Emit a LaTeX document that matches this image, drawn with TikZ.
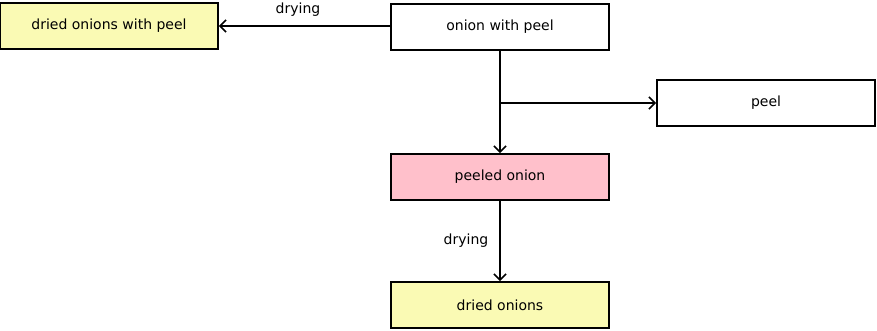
\documentclass[tikz,border=0pt]{standalone}
\usepackage{fontspec}
\setmainfont{DejaVu Sans}
\usetikzlibrary{arrows.meta}
\definecolor{boxyellow}{HTML}{FAFAB4}
\definecolor{boxpink}{HTML}{FFC0CB}
\begin{document}
\begin{tikzpicture}[x=1pt,y=-1pt,
  box/.style={draw=black,line width=1.8pt,minimum width=218pt,minimum height=46pt,inner sep=0pt,font=\fontsize{14}{16}\selectfont},
  conn/.style={line width=1.6pt,-{Straight Barb[length=6pt,width=12pt,line width=1.6pt]}},
  lbl/.style={font=\fontsize{14}{16}\selectfont}]
\useasboundingbox (0,0) rectangle (877,331);
\node[box,fill=boxyellow] (dop) at (109,26) {dried onions with peel};
\node[box,fill=white] (owp) at (500,27) {onion with peel};
\node[box,fill=white] (peel) at (766,103) {peel};
\node[box,fill=boxpink] (po) at (500,177) {peeled onion};
\node[box,fill=boxyellow] (do) at (500,305) {dried onions};
\coordinate (br) at (owp.south |- peel.west);
\draw[conn] (owp.west |- dop.east) -- (dop.east);
\draw[conn] (owp.south) -- (po.north);
\draw[conn] (br) -- (peel.west);
\draw[conn] (po.south) -- (do.north);
\node[lbl] (l1) at (298,10) {drying};
\node[lbl] (l2) at (466,241) {drying};
\end{tikzpicture}
\end{document}
